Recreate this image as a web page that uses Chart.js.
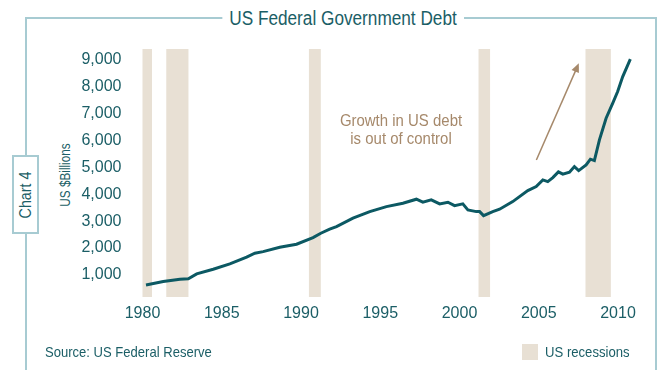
<!DOCTYPE html>
<html>
<head>
<meta charset="utf-8">
<script src="https://cdn.jsdelivr.net/npm/chart.js@4.4.1/dist/chart.umd.min.js"></script>
<style>
  html, body { margin:0; padding:0; background:#fff; }
  #wrap { position:relative; width:662px; height:370px; overflow:hidden; background:#fff;
          font-family:"Liberation Sans",Arial,sans-serif; color:#1b5e66; }
  #frame { position:absolute; left:25px; top:17px; width:628px; height:400px;
           border:2px solid #a7cbd2; border-bottom:none; }
  #title { position:absolute; left:343px; top:6px; transform:translateX(-50%) scaleX(0.86); background:#fff;
           padding:0 8px; font-size:20px; line-height:24px; white-space:nowrap; color:#1b5e66; }
  #chartno { position:absolute; left:12px; top:155px; width:23px; height:75px; background:#fff;
             border:2px solid #a7cbd2; }
  #chartno span { position:absolute; left:50%; top:50%; transform:translate(-50%,-50%) rotate(-90deg) scaleX(0.84);
                  font-size:17px; white-space:nowrap; color:#1b5e66; }
  #ytitle { position:absolute; left:65px; top:175px; transform:translate(-50%,-50%) rotate(-90deg) scaleX(0.84);
            font-size:14px; white-space:nowrap; color:#1b5e66; }
  #note { position:absolute; left:401px; top:112px; transform:translateX(-50%) scaleX(0.88); text-align:center;
          font-size:17px; line-height:18px; color:#a6896b; white-space:nowrap; }
  #source { position:absolute; left:45px; top:343px; font-size:15px; line-height:18px; color:#1b5e66;
            transform-origin:0 0; transform:scaleX(0.87); white-space:nowrap; }
  #legend { position:absolute; left:522px; top:344px; height:16px; width:16px; background:#e8e0d4; }
  #legtext { position:absolute; left:545px; top:343px; font-size:15px; line-height:18px; color:#1b5e66;
             transform-origin:0 0; transform:scaleX(0.875); white-space:nowrap; }
  canvas { position:absolute; left:0; top:0; }
</style>
</head>
<body>
<div id="wrap">
  <div id="frame"></div>
  <div id="title">US Federal Government Debt</div>
  <div id="chartno"><span>Chart 4</span></div>
  <div id="ytitle">US $Billions</div>
  <canvas id="c" width="662" height="370"></canvas>
  <div id="note">Growth in US debt<br>is out of control</div>
  <div id="source">Source: US Federal Reserve</div>
  <div id="legend"></div>
  <div id="legtext">US recessions</div>
</div>
<script>
// Data (US $ billions)
const years = [1980.22, 1981.31, 1982.36, 1982.89, 1983.42, 1984.46, 1985.51, 1986.57, 1987.09, 1987.61,
  1988.66, 1989.72, 1990.76, 1991.25, 1991.81, 1992.24, 1993.28, 1994.34, 1995.39, 1996.43,
  1997.28, 1997.69, 1998.22, 1998.75, 1999.27, 1999.69, 2000.21, 2000.53, 2001.06, 2001.27,
  2001.52, 2002.10, 2002.53, 2003.36, 2004.31, 2004.84, 2005.26, 2005.57, 2005.89, 2006.24,
  2006.52, 2006.94, 2007.25, 2007.52, 2007.99, 2008.26, 2008.51, 2008.83, 2009.25, 2009.67,
  2009.98, 2010.30, 2010.78];
const debt = [630, 755, 843, 860, 1040, 1214, 1411, 1660, 1808, 1868,
  2031, 2143, 2388, 2550, 2700, 2796, 3108, 3353, 3539, 3665,
  3813, 3702, 3788, 3640, 3702, 3576, 3640, 3416, 3353, 3353,
  3205, 3353, 3442, 3725, 4134, 4282, 4530, 4467, 4616, 4827,
  4742, 4816, 5024, 4876, 5087, 5299, 5247, 6016, 6821, 7378,
  7809, 8366, 9012];
const recessionStart = [1980.0, 1981.5, 1990.5, 2001.2, 2007.95];
const recessionEnd   = [1980.6, 1982.9, 1991.25, 2001.93, 2009.55];
const xTickYears = [1980, 1985, 1990, 1995, 2000, 2005, 2010];
const yTickValues = [1000, 2000, 3000, 4000, 5000, 6000, 7000, 8000, 9000];
const arrowFrom = { x: 2004.85, y: 5270 };
const arrowTo   = { x: 2007.53, y: 8860 };

const FONT = '"Liberation Sans",Arial,sans-serif';
const TEAL = '#1b5e66';

const bandsPlugin = {
  id: 'bands',
  beforeDatasetsDraw(chart) {
    const { ctx, chartArea, scales } = chart;
    ctx.save();
    ctx.fillStyle = '#e8e0d4';
    for (let i = 0; i < recessionStart.length; i++) {
      const x1 = scales.x.getPixelForValue(recessionStart[i]);
      const x2 = scales.x.getPixelForValue(recessionEnd[i]);
      ctx.fillRect(x1, chartArea.top, x2 - x1, chartArea.bottom - chartArea.top);
    }
    ctx.restore();
  },
  afterDatasetsDraw(chart) {
    const { ctx, scales } = chart;
    const x1 = scales.x.getPixelForValue(arrowFrom.x), y1 = scales.y.getPixelForValue(arrowFrom.y);
    const x2 = scales.x.getPixelForValue(arrowTo.x), y2 = scales.y.getPixelForValue(arrowTo.y);
    const ang = Math.atan2(y2 - y1, x2 - x1);
    const hl = 9, hw = 4;
    ctx.save();
    ctx.strokeStyle = '#a6896b';
    ctx.fillStyle = '#a6896b';
    ctx.lineWidth = 1.5;
    ctx.beginPath();
    ctx.moveTo(x1, y1);
    ctx.lineTo(x2 - Math.cos(ang) * hl * 0.8, y2 - Math.sin(ang) * hl * 0.8);
    ctx.stroke();
    ctx.beginPath();
    ctx.moveTo(x2, y2);
    ctx.lineTo(x2 - Math.cos(ang) * hl - Math.sin(ang) * hw, y2 - Math.sin(ang) * hl + Math.cos(ang) * hw);
    ctx.lineTo(x2 - Math.cos(ang) * hl + Math.sin(ang) * hw, y2 - Math.sin(ang) * hl - Math.cos(ang) * hw);
    ctx.closePath();
    ctx.fill();
    ctx.restore();
  }
};

new Chart(document.getElementById('c'), {
  type: 'line',
  data: {
    datasets: [{
      label: 'US Federal Government Debt',
      data: years.map((y, i) => ({ x: y, y: debt[i] })),
      borderColor: '#0c5963',
      borderWidth: 3,
      pointRadius: 0,
      tension: 0,
      fill: false
    }]
  },
  options: {
    responsive: false,
    animation: false,
    events: [],
    layout: { padding: { left: 0, top: 49, right: 25, bottom: 0 } },
    plugins: { legend: { display: false }, tooltip: { enabled: false }, title: { display: false } },
    scales: {
      x: {
        type: 'linear',
        min: 1980,
        max: 2011.2,
        grid: { display: false, drawTicks: false },
        border: { display: false },
        afterFit(s) { s.height = 73; },
        afterBuildTicks(s) { s.ticks = xTickYears.map(v => ({ value: v })); },
        ticks: {
          color: TEAL,
          padding: 7,
          maxRotation: 0,
          autoSkip: false,
          font: { family: FONT, size: 16 },
          callback: v => String(v)
        }
      },
      y: {
        min: 183,
        max: 9390,
        grid: { display: false, drawTicks: false },
        border: { display: false },
        afterFit(s) { s.width = 142.5; },
        afterBuildTicks(s) { s.ticks = yTickValues.map(v => ({ value: v })); },
        ticks: {
          color: TEAL,
          padding: 21,
          autoSkip: false,
          font: { family: FONT, size: 16 },
          callback: v => v.toLocaleString('en-US')
        }
      }
    }
  },
  plugins: [bandsPlugin]
});
</script>
</body>
</html>
